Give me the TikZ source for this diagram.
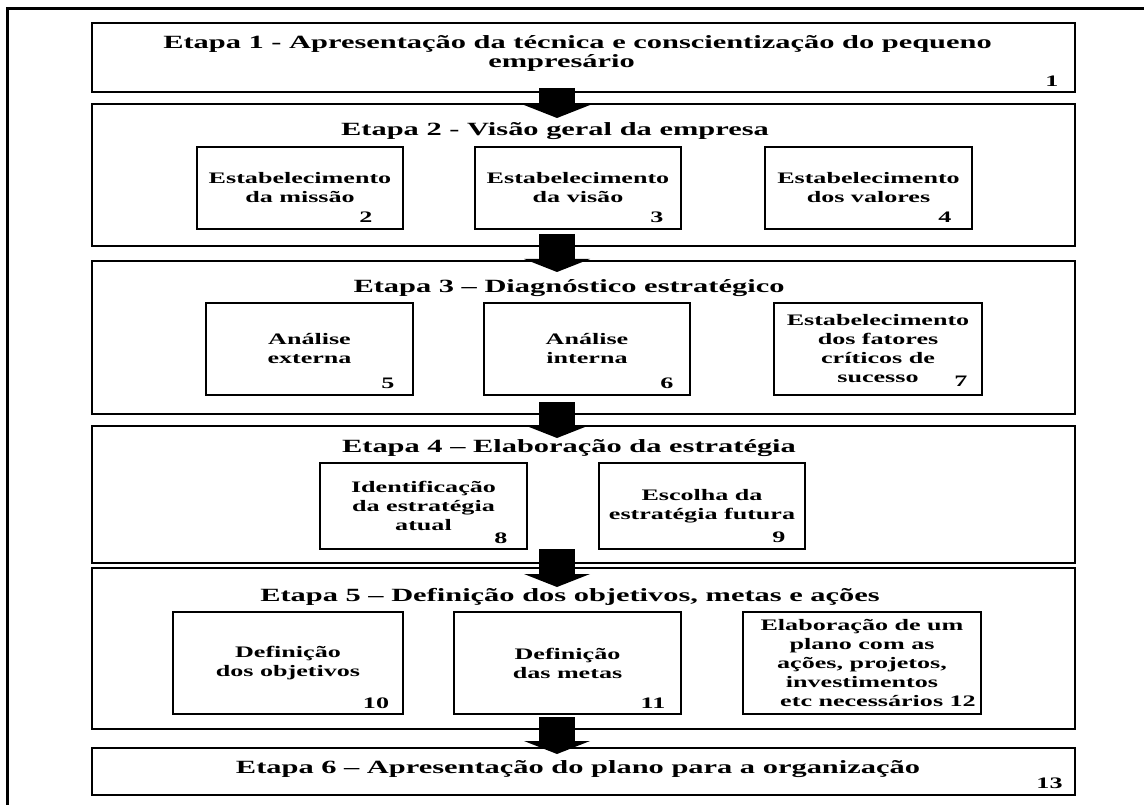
\documentclass[tikz,border=0pt]{standalone}
\usepackage{fontspec}
\usepackage{tikz}
\usetikzlibrary{arrows.meta, positioning, calc}
\newfontfamily\diagfont{Liberation Serif}[FakeStretch=1.63]
\tikzstyle{etapabox} = [rectangle, draw=black, line width=1.1pt, minimum width=737.25pt,
  inner sep=0pt, outer sep=0pt]
\tikzstyle{subbox} = [rectangle, draw=black, line width=1.1pt, inner sep=0pt, outer sep=0pt,
  align=center, font=\diagfont\bfseries\fontsize{12pt}{14.25pt}\selectfont]
\tikzstyle{titletext} = [inner sep=0pt, align=center,
  font=\diagfont\bfseries\fontsize{14pt}{14.25pt}\selectfont]
\tikzstyle{numtext} = [inner sep=0pt, font=\diagfont\bfseries\fontsize{12pt}{14.25pt}\selectfont]
\tikzstyle{bigarrow} = [line width=27pt, -{Triangle[length=9.75pt, width=49.5pt, line width=0pt]}]
\tikzstyle{frameline} = [line width=2.25pt]
\begin{document}
\begin{tikzpicture}[x=0.75pt, y=-0.75pt]
  \useasboundingbox (0,0) rectangle (1144,805);

  % === FRAME ===
  \draw[frameline] (7.5,805) -- (7.5,8.5) -- (1144,8.5);

  % === ETAPAS ===
  \node (e1) [etapabox, minimum height=51.75pt] at (583.5,57.5) {};
  \node (e2) [etapabox, minimum height=106.5pt, below=9pt of e1] {};
  \node (e3) [etapabox, minimum height=114.75pt, below=11.25pt of e2] {};
  \node (e4) [etapabox, minimum height=102.75pt, below=9pt of e3] {};
  \node (e5) [etapabox, minimum height=120.75pt, below=3.75pt of e4] {};
  \node (e6) [etapabox, minimum height=35.25pt, below=14.25pt of e5] {};

  % === TITLES ===
  \node (t1) [titletext] at (577.5,53.5)
    {Etapa 1 - Apresentação da técnica e conscientização do pequeno\\empresário\hspace*{24pt}};
  \node (t2) [titletext] at (555,131) {Etapa 2 - Visão geral da empresa};
  \node (t3) [titletext] at (569,288) {Etapa 3 – Diagnóstico estratégico};
  \node (t4) [titletext] at (569,448) {Etapa 4 – Elaboração da estratégia};
  \node (t5) [titletext] at (570,597) {Etapa 5 – Definição dos objetivos, metas e ações};
  \node (t6) [titletext] at (578,769) {Etapa 6 – Apresentação do plano para a organização};
  \node (n1) [numtext] at ($(e1.south east)+(-23,-11)$) {1};
  \node (n13) [numtext] at ($(e6.south east)+(-25.5,-12)$) {13};

  % === ETAPA 2 ===
  \node (s2) [subbox, minimum width=154.5pt, minimum height=61.5pt] at (300,188)
    {Estabelecimento\\da missão};
  \node (s3) [subbox, minimum width=154.5pt, minimum height=61.5pt, right=54pt of s2]
    {Estabelecimento\\da visão};
  \node (s4) [subbox, minimum width=155.25pt, minimum height=61.5pt, right=63pt of s3]
    {Estabelecimento\\dos valores};
  \node (n2) [numtext] at ($(s2.south east)+(-37,-12)$) {2};
  \node (n3) [numtext] at ($(s3.south east)+(-24,-12)$) {3};
  \node (n4) [numtext] at ($(s4.south east)+(-27,-12)$) {4};

  % === ETAPA 3 ===
  \node (s5) [subbox, minimum width=155.25pt, minimum height=69pt] at (309.5,349)
    {Análise\\externa};
  \node (s6) [subbox, minimum width=154.5pt, minimum height=69pt, right=53.25pt of s5]
    {Análise\\interna};
  \node (s7) [subbox, minimum width=156pt, minimum height=69pt, right=63pt of s6]
    {Estabelecimento\\dos fatores\\críticos de\\sucesso};
  \node (n5) [numtext] at ($(s5.south east)+(-25,-12)$) {5};
  \node (n6) [numtext] at ($(s6.south east)+(-23,-12)$) {6};
  \node (n7) [numtext] at ($(s7.south east)+(-21,-14)$) {7};

  % === ETAPA 4 ===
  \node (s8) [subbox, minimum width=155.25pt, minimum height=64.5pt] at (423.5,506)
    {Identificação\\da estratégia\\atual};
  \node (s9) [subbox, minimum width=154.5pt, minimum height=64.5pt, right=54pt of s8]
    {Escolha da\\estratégia futura};
  \node (n8) [numtext] at ($(s8.south east)+(-26,-11)$) {8};
  \node (n9) [numtext] at ($(s9.south east)+(-26,-12)$) {9};

  % === ETAPA 5 ===
  \node (s10) [subbox, minimum width=172.5pt, minimum height=76.5pt] at (288,663)
    {Definição\\dos objetivos};
  \node (s11) [subbox, minimum width=170.25pt, minimum height=76.5pt, right=38.25pt of s10]
    {Definição\\das metas};
  \node (s12) [subbox, minimum width=178.5pt, minimum height=76.5pt, right=46.5pt of s11]
    {Elaboração de um\\plano com as\\ações, projetos,\\investimentos\\\hspace*{24pt}etc necessários 12};
  \node (n10) [numtext] at ($(s10.south east)+(-27,-11)$) {10};
  \node (n11) [numtext] at ($(s11.south east)+(-28,-11)$) {11};

  % === ARROWS ===
  \draw[bigarrow] ($(e1.south)+(-26.5,-4)$) -- ($(e2.north)+(-26.5,14)$);
  \draw[bigarrow] ($(e2.south)+(-26.5,-12)$) -- ($(e3.north)+(-26.5,11)$);
  \draw[bigarrow] ($(e3.south)+(-26.5,-12)$) -- ($(e4.north)+(-26.5,12)$);
  \draw[bigarrow] ($(e4.south)+(-26.5,-14)$) -- ($(e5.north)+(-26.5,19)$);
  \draw[bigarrow] ($(e5.south)+(-26.5,-12)$) -- ($(e6.north)+(-26.5,6)$);

\end{tikzpicture}
\end{document}
